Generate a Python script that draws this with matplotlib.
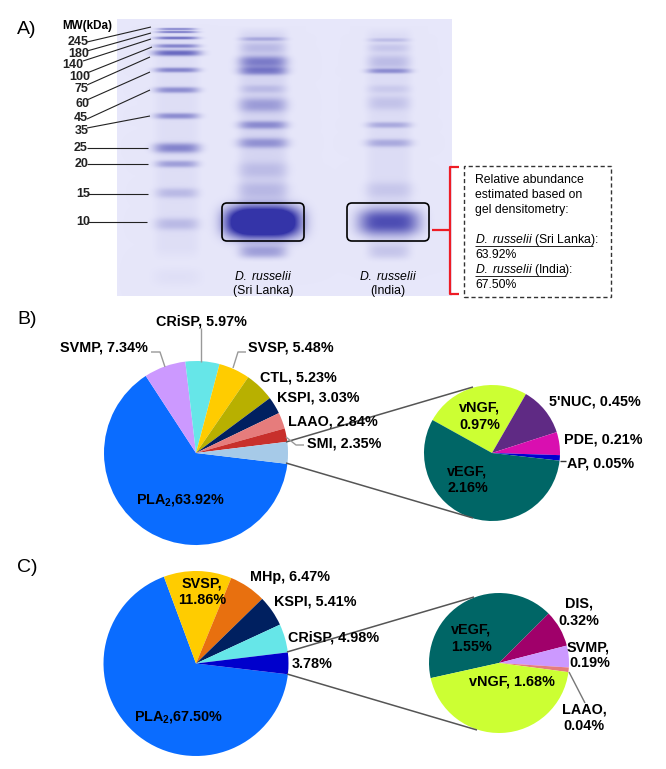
import numpy as np
import matplotlib
matplotlib.use('Agg')
import matplotlib.pyplot as plt
from matplotlib.patches import FancyBboxPatch, Rectangle

plt.rcParams['font.family'] = ['Liberation Sans', 'DejaVu Sans']
plt.rcParams['mathtext.fontset'] = 'custom'
plt.rcParams['mathtext.rm'] = 'Liberation Sans'
plt.rcParams['mathtext.it'] = 'Liberation Sans:italic'
plt.rcParams['mathtext.bf'] = 'Liberation Sans:bold'

W, H = 666, 769

# gel bands: y position, half width, thickness, strength
ladder_y = [29, 32, 38, 46, 53, 70, 90, 116, 148, 164, 193, 224, 277]
ladder_hw = [19, 20, 21, 22, 24, 22, 22, 22, 23, 21, 21, 22, 24]
ladder_th = [1.2, 1.2, 1.5, 2, 3, 2.5, 3, 3, 5, 3.5, 5, 6, 9]
ladder_s = [.5, .55, .6, .5, .65, .5, .45, .45, .5, .35, .2, .2, .04]

sl_y = [39, 48, 62, 71, 89, 105, 125, 143, 170, 190, 222, 252]
sl_hw = [22, 22, 24, 24, 22, 24, 24, 25, 25, 26, 37, 23]
sl_th = [2, 5, 6, 4, 4, 7, 4, 5, 8, 8, 15, 6]
sl_s = [.25, .15, .5, .5, .15, .32, .42, .38, .14, .16, 1.7, .32]

ind_y = [40, 48, 62, 71, 89, 103, 125, 143, 190, 222, 252]
ind_hw = [20, 20, 21, 22, 21, 21, 22, 23, 24, 31, 20]
ind_th = [2, 4, 7, 2.5, 4, 7, 3, 4, 8, 13, 7]
ind_s = [.17, .12, .18, .42, .1, .14, .28, .28, .12, .8, .14]

lane_x = [177, 263, 389]
lane_smear = [.05, .1, .06]
lane_hw = [22, 24, 22]

# pies
b_names = ['PLA2', 'SVMP', 'CRiSP', 'SVSP', 'CTL', 'KSPI', 'LAAO', 'SMI', 'others']
b_vals = [63.92, 7.34, 5.97, 5.48, 5.23, 3.03, 2.84, 2.35, 3.84]
b_cols = ['#0a6cff', '#cc99ff', '#66e6e8', '#ffcc00', '#b8b000', '#002060', '#e67c7c', '#c8302c', '#a6cae8']

b2_names = ['vNGF', "5'NUC", 'PDE', 'AP', 'vEGF']
b2_vals = [0.97, 0.45, 0.21, 0.05, 2.16]
b2_cols = ['#ccff33', '#5f2a84', '#d90fb0', '#0000d0', '#006666']

c_names = ['PLA2', 'SVSP', 'MHp', 'KSPI', 'CRiSP', 'others']
c_vals = [67.50, 11.86, 6.47, 5.41, 4.98, 3.78]
c_cols = ['#0a6cff', '#ffcc00', '#e8700f', '#002060', '#66e6e8', '#0000cc']

c2_names = ['vEGF', 'DIS', 'SVMP', 'LAAO', 'vNGF']
c2_vals = [1.55, 0.32, 0.19, 0.04, 1.68]
c2_cols = ['#006666', '#a0006a', '#cc99ff', '#e67c7c', '#ccff33']

mw_labels = ['245', '180', '140', '100', '75', '60', '45', '35', '25', '20', '15', '10']
mw_text = [(78, 42), (79, 54), (73, 65), (80, 77), (81, 89), (82, 104), (81, 118), (82, 131),
           (81, 148), (82, 164), (83, 194), (83, 222)]
mw_from = [(87, 42), (87, 51), (83, 61), (87, 73), (87, 85), (87, 100), (87, 119), (87, 128),
           (87, 148), (87, 164), (87, 194), (87, 222)]
mw_to = [(151, 27), (151, 33), (151, 39), (152, 47), (150, 57), (150, 72), (150, 90), (150, 116),
         (148, 148), (148, 164), (148, 194), (147, 222)]

fig = plt.figure(figsize=(W / 100, H / 100), dpi=100)
ax = fig.add_axes([0, 0, 1, 1])


def Y(py):
    return H - py


def txt(x, y, s, size=10.4, weight='bold', ha='left', color='black'):
    ax.text(x, Y(y), s, fontsize=size, fontweight=weight, ha=ha, va='center', color=color, zorder=10)


def line(pts, color='#555555', lw=1.0, z=6):
    ax.plot([p[0] for p in pts], [Y(p[1]) for p in pts], color=color, lw=lw, zorder=z,
            solid_capstyle='butt')


# gel picture
gx, gy = np.meshgrid(np.arange(117, 452) + .5, np.arange(19, 296) + .5)
dens = np.zeros_like(gx)
all_lanes = [(ladder_y, ladder_hw, ladder_th, ladder_s),
             (sl_y, sl_hw, sl_th, sl_s),
             (ind_y, ind_hw, ind_th, ind_s)]
for cx, (ys, hws, ths, ss) in zip(lane_x, all_lanes):
    for yc, hw, th, st in zip(ys, hws, ths, ss):
        dens += st * np.exp(-np.abs((gx - cx) / hw) ** 4) * np.exp(-np.abs((gy - yc) / th) ** 2.5)
for cx, hw, st in zip(lane_x, lane_hw, lane_smear):
    fade = np.clip((gy - 26) / 10, 0, 1) * np.clip((262 - gy) / 14, 0, 1)
    dens += st * np.exp(-np.abs((gx - cx) / hw) ** 6) * fade
dens = np.clip(dens, 0, 1)[..., None]
bg = np.array([231, 231, 250]) / 255
ink = np.array([52, 52, 168]) / 255
ax.imshow(bg + (ink - bg) * dens, extent=(117, 452, Y(296), Y(19)), origin='upper',
          interpolation='bilinear', zorder=1)

# boxes round the main band
for x0 in (222, 347):
    ax.add_patch(FancyBboxPatch((x0 + 4, Y(241) + 4), 74, 30, boxstyle='round,pad=4,rounding_size=5',
                                fc='none', ec='black', lw=1.2, zorder=5))

# bracket and dashed box
line([(459, 167), (450, 167), (450, 294), (459, 294)], color='#ee1c25', lw=1.6)
line([(432, 230), (450, 230)], color='#ee1c25', lw=1.6)
ax.add_patch(Rectangle((464, Y(297)), 147, 131, fc='none', ec='#333333', lw=1.0,
                       ls=(0, (3, 2)), zorder=5))

txt(475, 180, 'Relative abundance', 8.8, 'normal')
txt(475, 195, 'estimated based on', 8.8, 'normal')
txt(475, 210, 'gel densitometry:', 8.8, 'normal')
txt(475, 240, r'$\mathit{D.\ russelii}$ (Sri Lanka):', 8.8, 'normal')
txt(475, 255, '63.92%', 8.8, 'normal')
txt(475, 270, r'$\mathit{D.\ russelii}$ (India):', 8.8, 'normal')
txt(475, 285, '67.50%', 8.8, 'normal')
line([(475, 246), (593, 246)], color='#222222', lw=.7)
line([(475, 276), (566, 276)], color='#222222', lw=.7)

txt(263, 276, r'$\mathit{D.\ russelii}$', 8.8, 'normal', ha='center')
txt(263, 291, '(Sri Lanka)', 8.8, 'normal', ha='center')
txt(388, 276, r'$\mathit{D.\ russelii}$', 8.8, 'normal', ha='center')
txt(388, 291, '(India)', 8.8, 'normal', ha='center')

# ladder labels
txt(62, 26, 'MW(kDa)', 8.4)
for lab, pos, a, b in zip(mw_labels, mw_text, mw_from, mw_to):
    txt(pos[0], pos[1], lab, 9, ha='center', color='#222222')
    line([a, b], color='#222222', lw=.8)

# panel letters
txt(17, 30, 'A)', 14, 'normal')
txt(17, 320, 'B)', 14, 'normal')
txt(17, 568, 'C)', 14, 'normal')

# pies
ax.pie(b_vals, colors=b_cols, startangle=-6.8, counterclock=False, center=(196, Y(453)), radius=92,
       frame=True, wedgeprops={'zorder': 3})
ax.pie(b2_vals, colors=b2_cols, startangle=151, counterclock=False, center=(492, Y(453)), radius=68,
       frame=True, wedgeprops={'zorder': 3})
ax.pie(c_vals, colors=c_cols, startangle=-6.7, counterclock=False, center=(196, Y(663.5)), radius=92.5,
       frame=True, wedgeprops={'zorder': 3})
ax.pie(c2_vals, colors=c2_cols, startangle=192.5, counterclock=False, center=(499, Y(663)), radius=70,
       frame=True, wedgeprops={'zorder': 3})

# zoom connectors
line([(286, 442), (473, 387)], lw=1.1)
line([(286, 463), (473, 518)], lw=1.1)
line([(287, 652), (474, 597)], lw=1.1)
line([(287, 674), (477, 730)], lw=1.1)

# leader lines
line([(201, 328), (201, 362)], color='#999999')
line([(151, 352), (160, 352), (165, 367)], color='#999999')
line([(246, 352), (238, 352), (233, 368)], color='#999999')
line([(304, 445), (296, 445), (286, 437)], color='#999999')
line([(566, 461), (560, 461)], color='#333333')
line([(569, 672), (585, 703)], color='#777777')

# pie B labels
txt(156, 322, 'CRiSP, 5.97%')
txt(60, 348, 'SVMP, 7.34%')
txt(248, 348, 'SVSP, 5.48%')
txt(260, 377, 'CTL, 5.23%')
txt(277, 397, 'KSPI, 3.03%')
txt(288, 422, 'LAAO, 2.84%')
txt(307, 443, 'SMI, 2.35%')
txt(136, 500, r'PLA$_{\mathbf{2}}$,63.92%')
txt(459, 408, 'vNGF,')
txt(459, 425, '0.97%')
txt(549, 402, "5'NUC, 0.45%")
txt(564, 439, 'PDE, 0.21%')
txt(567, 463, 'AP, 0.05%')
txt(447, 472, 'vEGF,')
txt(447, 488, '2.16%')

# pie C labels
txt(202, 583, 'SVSP,', ha='center')
txt(202, 600, '11.86%', ha='center')
txt(250, 577, 'MHp, 6.47%')
txt(274, 602, 'KSPI, 5.41%')
txt(288, 638, 'CRiSP, 4.98%')
txt(292, 664, '3.78%')
txt(134, 717, r'PLA$_{\mathbf{2}}$,67.50%')
txt(451, 630, 'vEGF,')
txt(451, 647, '1.55%')
txt(565, 603, 'DIS,')
txt(558, 621, '0.32%')
txt(567, 647, 'SVMP,')
txt(569, 663, '0.19%')
txt(469, 681, 'vNGF, 1.68%')
txt(562, 710, 'LAAO,')
txt(563, 726, '0.04%')

ax.set_xlim(0, W)
ax.set_ylim(0, H)
ax.set_aspect('auto')
ax.axis('off')
fig.savefig('out.png', dpi=100)
